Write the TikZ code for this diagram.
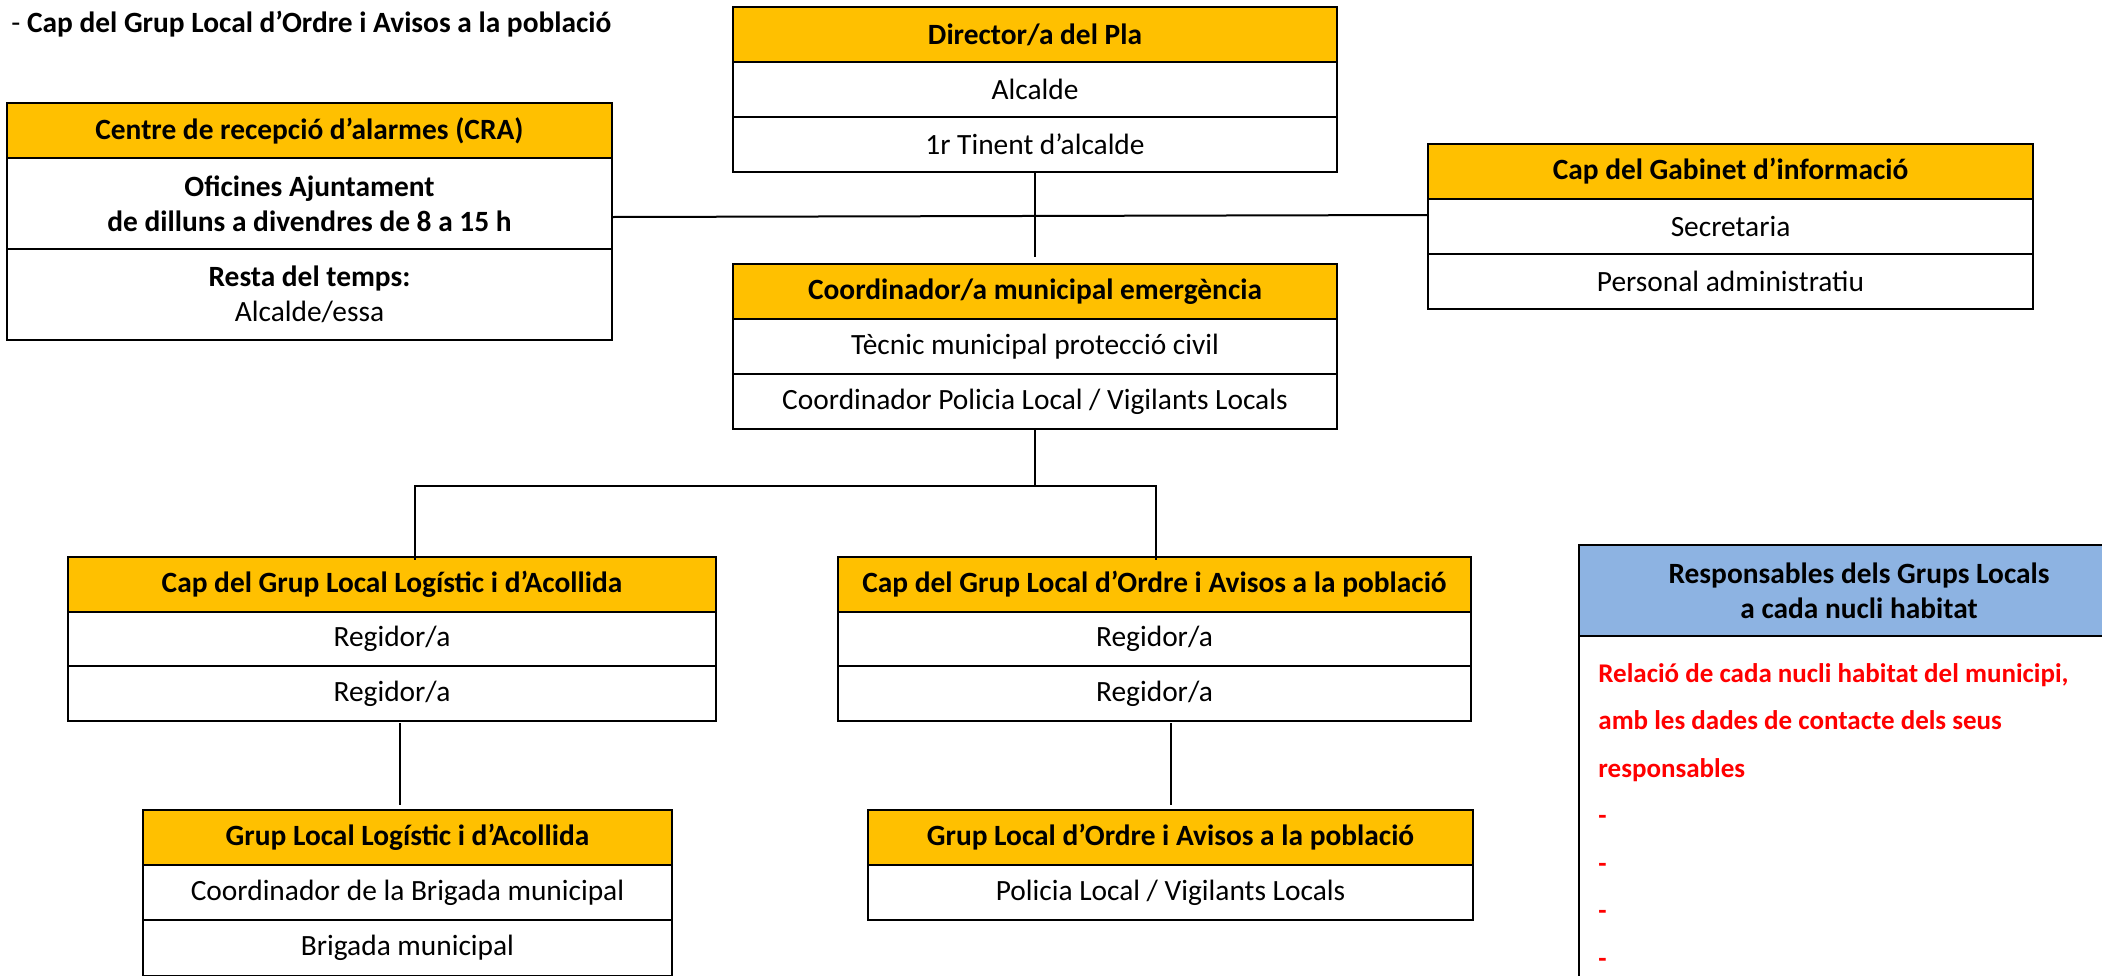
\documentclass[tikz,border=0pt]{standalone}
\usepackage{fontspec}
\setmainfont{Carlito}
\usetikzlibrary{calc}
\newdimen\px \px=0.5pt
\definecolor{hdrorange}{HTML}{FFC000}
\definecolor{hdrblue}{HTML}{8DB3E2}
\definecolor{notered}{HTML}{FF0000}
\newcommand{\boxfont}{\fontsize{14.7}{17.5}\selectfont}
\begin{document}
\begin{tikzpicture}[x=0.5pt,y=-0.5pt,
  cell/.style={draw=black, line width=1pt, fill=white, inner sep=0pt, outer sep=0pt,
    anchor=north west, align=center, minimum width=#1\px, font=\boxfont},
  head/.style={cell=#1, fill=hdrorange, font=\boxfont\bfseries},
  link/.style={line width=1pt, draw=black}]
\useasboundingbox (0,0) rectangle (2102,975);

% heading note
\node[anchor=base west, inner sep=0pt, font=\boxfont] (note) at (11,32)
  {- \textbf{Cap del Grup Local d’Ordre i Avisos a la població}};

% alarm reception centre
\node[head=605, minimum height=55\px] (craH) at (7,103) {Centre de recepció d’alarmes (CRA)};
\node[cell=605, minimum height=91\px, font=\boxfont\bfseries] (craR1) at (7,158)
  {Oficines Ajuntament\\de dilluns a divendres de 8 a 15 h};
\node[cell=605, minimum height=91\px] (craR2) at (7,249) {\textbf{Resta del temps:}\\Alcalde/essa};

% plan director
\node[head=604, minimum height=55\px] (dirH) at (733,7) {Director/a del Pla};
\node[cell=604, minimum height=55\px] (dirR1) at (733,62) {Alcalde};
\node[cell=604, minimum height=55\px] (dirR2) at (733,117) {1r Tinent d’alcalde};

% municipal emergency coordinator
\node[head=604, minimum height=55\px] (coH) at (733,264) {Coordinador/a municipal emergència};
\node[cell=604, minimum height=55\px] (coR1) at (733,319) {Tècnic municipal protecció civil};
\node[cell=604, minimum height=55\px] (coR2) at (733,374) {Coordinador Policia Local / Vigilants Locals};

% information office
\node[head=605, minimum height=55\px] (gabH) at (1428,144) {Cap del Gabinet d’informació};
\node[cell=605, minimum height=55\px] (gabR1) at (1428,199) {Secretaria};
\node[cell=605, minimum height=55\px] (gabR2) at (1428,254) {Personal administratiu};

% heads of local groups
\node[head=648, minimum height=55\px] (capLH) at (68,557) {Cap del Grup Local Logístic i d’Acollida};
\node[cell=648, minimum height=54\px] (capLR1) at (68,612) {Regidor/a};
\node[cell=648, minimum height=55\px] (capLR2) at (68,666) {Regidor/a};

\node[head=633, minimum height=55\px] (capOH) at (838,557) {Cap del Grup Local d’Ordre i Avisos a la població};
\node[cell=633, minimum height=54\px] (capOR1) at (838,612) {Regidor/a};
\node[cell=633, minimum height=55\px] (capOR2) at (838,666) {Regidor/a};

% local groups
\node[head=529, minimum height=55\px] (grpLH) at (143,810) {Grup Local Logístic i d’Acollida};
\node[cell=529, minimum height=55\px] (grpLR1) at (143,865) {Coordinador de la Brigada municipal};
\node[cell=529, minimum height=56\px] (grpLR2) at (143,920) {Brigada municipal};

\node[head=605, minimum height=55\px] (grpOH) at (868,810) {Grup Local d’Ordre i Avisos a la població};
\node[cell=605, minimum height=55\px] (grpOR1) at (868,865) {Policia Local / Vigilants Locals};

% responsibles per inhabited nucleus
\node[cell=560, minimum height=91\px, fill=hdrblue, font=\boxfont\bfseries] (respH) at (1579,545)
  {Responsables dels Grups Locals\\a cada nucli habitat};
\node[cell=560, minimum height=400\px] (respB) at (1579,636) {};
% base anchor of a multi-line node sits on its last line
\node[anchor=base west, inner sep=0pt, align=left, text=notered,
  font=\fontsize{13.5}{23.75}\selectfont\bfseries] (respTxt) at (1598,967)
  {Relació de cada nucli habitat del municipi,\\amb les dades de contacte dels seus\\responsables\\-\\-\\-\\-};

% connectors
\draw[link] ($(craR1.north east)+(0,59)$) -- ($(gabR1.north west)+(0,16)$);
\draw[link] (dirR2.south) -- ($(coH.north)+(0,-7)$);
\coordinate (bus) at ($(coR2.south)+(0,57)$);
\draw[link] (coR2.south) -- (bus);
\draw[link] (bus) -| ($(capLH.north west)+(347,3)$);
\draw[link] (bus) -| ($(capOH.north west)+(318,3)$);
\draw[link] ($(capLR2.south west)+(332,2)$) -- ($(grpLH.north west)+(257,-5)$);
\draw[link] ($(capOR2.south west)+(333,2)$) -- ($(grpOH.north west)+(303,-5)$);
\end{tikzpicture}
\end{document}
